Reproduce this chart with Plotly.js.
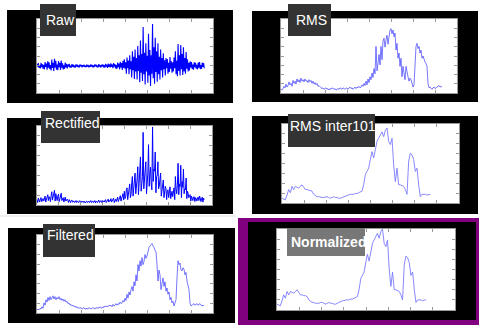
<!DOCTYPE html>
<html>
<head>
<meta charset="utf-8">
<script src="https://cdn.plot.ly/plotly-3.0.1.min.js"></script>
<style>html,body{margin:0;padding:0;background:#fff;}#chart{width:479px;height:325px;}</style>
</head>
<body>
<div id="chart"></div>
<script>
// ---- data (arbitrary units) ----
const panelTitles = ["Raw", "RMS", "Rectified", "RMS inter101", "Filtered", "Normalized"];

const rawSignal = [
  0.08,-0.02,0.11,-0.07,0.03,-0.09,0.12,-0.04,0.07,-0.10,
  0.05,-0.12,0.15,-0.03,0.09,-0.13,0.18,-0.06,0.14,-0.11,
  0.04,-0.16,0.24,-0.07,0.12,-0.18,0.27,-0.05,0.20,-0.13,
  0.06,-0.15,0.19,-0.04,0.12,-0.14,0.21,-0.06,0.10,-0.12,
  0.03,-0.10,0.13,-0.05,0.08,-0.09,0.06,-0.02,0.08,-0.06,
  0.02,-0.06,0.07,-0.03,0.05,-0.05,0.02,-0.06,0.06,-0.02,
  0.05,-0.04,0.02,-0.05,0.06,-0.01,0.04,-0.05,0.03,-0.02,
  0.05,-0.03,0.01,-0.04,0.05,-0.02,0.04,-0.05,0.02,-0.03,
  0.06,-0.02,0.04,-0.05,0.02,-0.04,0.06,-0.01,0.05,-0.04,
  0.02,-0.05,0.07,-0.02,0.04,-0.06,0.05,-0.01,0.06,-0.05,
  0.03,-0.06,0.08,-0.02,0.05,-0.07,0.09,-0.03,0.06,-0.05,
  0.10,-0.03,0.06,-0.08,0.11,-0.02,0.07,-0.09,0.04,-0.10,
  0.13,-0.04,0.09,-0.12,0.16,-0.05,0.11,-0.14,0.20,-0.07,
  0.25,-0.10,0.14,-0.28,0.32,-0.08,0.21,-0.30,0.40,-0.12,
  0.18,-0.42,0.55,-0.15,0.35,-0.48,0.62,-0.20,0.30,-0.50,
  0.75,-0.18,0.40,-0.60,0.95,-0.25,0.45,-0.55,1.45,-0.30,
  0.50,-0.68,0.85,-0.20,0.38,-0.62,1.20,-0.35,0.60,-0.74,
  0.40,-0.28,1.56,-0.45,0.70,-0.66,1.05,-0.22,0.55,-0.58,
  0.85,-0.30,0.35,-0.50,0.62,-0.15,0.30,-0.42,0.48,-0.12,
  0.22,-0.35,0.30,-0.08,0.26,-0.28,0.12,-0.22,0.34,-0.10,
  0.18,-0.25,0.14,-0.20,0.32,-0.08,0.55,-0.30,0.20,-0.38,
  0.82,-0.18,0.40,-0.35,0.78,-0.12,0.45,-0.33,0.70,-0.20,
  0.30,-0.28,0.52,-0.10,0.25,-0.20,0.12,-0.16,0.18,-0.05,
  0.15,-0.11,0.06,-0.13,0.14,-0.04,0.12,-0.10,0.05,-0.12,
  0.13,-0.06,0.15,-0.11,0.04,-0.10,0.13,-0.03,0.11,-0.08
];

const rmsSignal = [
  0.05,0.04,0.06,0.09,0.07,0.12,0.08,0.10,0.15,0.11,
  0.13,0.09,0.17,0.13,0.16,0.12,0.19,0.15,0.18,0.14,
  0.20,0.16,0.18,0.15,0.19,0.16,0.17,0.14,0.18,0.15,
  0.17,0.13,0.16,0.12,0.14,0.11,0.13,0.09,0.10,0.08,
  0.07,0.06,0.07,0.05,0.06,0.07,0.05,0.06,0.04,0.06,
  0.05,0.07,0.06,0.05,0.06,0.04,0.05,0.06,0.05,0.07,
  0.06,0.05,0.07,0.06,0.05,0.06,0.07,0.05,0.06,0.08,
  0.06,0.07,0.05,0.07,0.08,0.06,0.08,0.07,0.09,0.07,
  0.08,0.11,0.09,0.13,0.10,0.16,0.11,0.19,0.14,0.22,
  0.18,0.27,0.21,0.33,0.26,0.63,0.30,0.40,0.52,0.38,
  0.63,0.45,0.70,0.74,0.62,0.72,0.78,0.66,0.81,0.85,
  0.87,0.80,0.85,0.76,0.81,0.58,0.67,0.47,0.54,0.36,
  0.47,0.22,0.36,0.29,0.18,0.36,0.25,0.22,0.16,0.20,
  0.18,0.12,0.08,0.11,0.40,0.63,0.67,0.60,0.63,0.54,
  0.58,0.47,0.50,0.45,0.42,0.40,0.36,0.13,0.07,0.08,
  0.06,0.05,0.07,0.08,0.06,0.07,0.08,0.09,0.10,0.08,0.09,0.09
];

const filteredSignal = [
  0.04,0.05,0.04,0.06,0.05,0.08,0.06,0.13,0.10,0.17,
  0.14,0.20,0.16,0.21,0.17,0.19,0.22,0.18,0.21,0.17,
  0.20,0.18,0.21,0.17,0.19,0.16,0.18,0.15,0.17,0.14,
  0.15,0.12,0.13,0.10,0.11,0.09,0.10,0.08,0.09,0.07,
  0.08,0.06,0.07,0.06,0.07,0.05,0.06,0.07,0.05,0.06,
  0.06,0.05,0.07,0.06,0.05,0.06,0.07,0.06,0.05,0.07,
  0.06,0.07,0.06,0.08,0.07,0.06,0.08,0.07,0.09,0.08,
  0.09,0.08,0.10,0.09,0.10,0.08,0.11,0.09,0.10,0.12,
  0.10,0.12,0.11,0.14,0.12,0.13,0.16,0.14,0.19,0.16,
  0.24,0.19,0.27,0.23,0.30,0.34,0.28,0.40,0.35,0.49,
  0.41,0.62,0.54,0.67,0.60,0.71,0.62,0.66,0.75,0.70,
  0.73,0.80,0.84,0.86,0.88,0.89,0.86,0.84,0.80,0.79,
  0.62,0.41,0.55,0.49,0.30,0.41,0.45,0.34,0.40,0.28,
  0.32,0.24,0.27,0.17,0.20,0.13,0.15,0.09,0.12,0.17,
  0.45,0.67,0.62,0.64,0.55,0.54,0.58,0.56,0.49,0.52,
  0.41,0.36,0.30,0.13,0.09,0.10,0.11,0.12,0.10,0.11,
  0.12,0.10,0.11,0.12,0.10,0.09,0.10,0.09
];

const rmsInter101 = [
  0.06,0.05,0.04,0.10,0.17,0.13,0.21,0.17,0.21,0.20,
  0.19,0.21,0.23,0.20,0.17,0.17,0.16,0.16,0.15,0.11,
  0.09,0.08,0.08,0.07,0.07,0.07,0.08,0.08,0.07,0.06,
  0.07,0.08,0.07,0.07,0.06,0.06,0.07,0.08,0.09,0.10,
  0.10,0.11,0.11,0.11,0.12,0.12,0.13,0.14,0.15,0.23,
  0.36,0.40,0.44,0.55,0.65,0.57,0.69,0.78,0.82,0.86,
  0.90,0.84,0.92,0.95,0.78,0.74,0.82,0.48,0.27,0.44,
  0.23,0.23,0.22,0.21,0.17,0.11,0.53,0.63,0.61,0.55,
  0.40,0.44,0.23,0.08,0.11,0.11,0.11,0.10,0.11,0.11
];

// derived series, as in the original processing chain
const rectifiedSignal = rawSignal.map(v => Math.abs(v));
const interPeak = Math.max(...rmsInter101);
const normalizedSignal = rmsInter101.map(v => v / interPeak);

// ---- layout helpers (pixel geometry of the 479x325 page) ----
const W = 479, H = 325;
const px = x => x / W;
const py = y => 1 - y / H;

function rect(x0, y0, x1, y1, fill, layer) {
  return {type: "rect", xref: "paper", yref: "paper",
          x0: px(x0), x1: px(x1), y0: py(y1), y1: py(y0),
          fillcolor: fill, line: {width: 0}, layer: layer || "below"};
}

function axis(domain, range) {
  return {domain: domain, range: range, tick0: range[0], dtick: (range[1] - range[0]) / 8,
          ticks: "inside", ticklen: 3, tickwidth: 1, tickcolor: "#9a9a9a",
          showticklabels: false, showgrid: false, zeroline: false,
          showline: true, linecolor: "#9a9a9a", linewidth: 1, mirror: "ticks",
          fixedrange: true};
}

// plot boxes [left, top, right, bottom] in page pixels
const boxes = [
  [37, 19, 213, 93],    // Raw
  [281, 19, 457, 93],   // RMS
  [37, 126, 212, 205],  // Rectified
  [282, 124, 459, 203], // RMS inter101
  [37, 235, 213, 313],  // Filtered
  [277, 229, 455, 310]  // Normalized
];
const xRanges = [[0, 262], [0, 176], [0, 260.5], [0, 106.2], [0, 176], [0, 106.3]];
const yRanges = [[-1.0, 1.75], [0, 1], [-0.03, 1.58], [0, 1], [0, 1], [-0.01, 1.0]];
const series = [rawSignal, rmsSignal, rectifiedSignal, rmsInter101, filteredSignal, normalizedSignal];
const lineStyles = [
  {color: "#0000ff", width: 1.1},
  {color: "#3c3cff", width: 0.7},
  {color: "#0000ff", width: 1.0},
  {color: "#7a7aff", width: 0.9},
  {color: "#3c3cff", width: 0.7},
  {color: "#7a7aff", width: 0.9}
];

const data = [];
const layout = {
  width: W, height: H, margin: {l: 0, r: 0, t: 0, b: 0},
  paper_bgcolor: "#ffffff", plot_bgcolor: "rgba(0,0,0,0)",
  showlegend: false, shapes: [], annotations: []
};

// frames
layout.shapes.push(rect(0, 215.5, 236, 216.5, "#e2e2e2"));
layout.shapes.push(rect(7, 10, 233, 103, "#000000"));
layout.shapes.push(rect(252, 11, 478, 102, "#000000"));
layout.shapes.push(rect(7, 118, 233, 214, "#000000"));
layout.shapes.push(rect(252, 116, 478, 214, "#000000"));
layout.shapes.push(rect(8, 228, 235, 323, "#000000"));
layout.shapes.push(rect(238, 218, 479, 325, "#800080"));
layout.shapes.push(rect(248, 222, 476, 320, "#000000"));

boxes.forEach((b, i) => {
  const n = i === 0 ? "" : String(i + 1);
  layout["xaxis" + n] = axis([px(b[0]), px(b[2])], xRanges[i]);
  layout["yaxis" + n] = axis([py(b[3]), py(b[1])], yRanges[i]);
  layout["xaxis" + n].anchor = "y" + n;
  layout["yaxis" + n].anchor = "x" + n;
  layout.shapes.push(rect(b[0], b[1], b[2], b[3], "#ffffff"));
  data.push({type: "scatter", mode: "lines", y: series[i],
             xaxis: "x" + n, yaxis: "y" + n,
             line: lineStyles[i], hoverinfo: "skip"});
});

// title tags: [box left, top, right, bottom, text x, text center y, fill, bold]
const tags = [
  [40, 4, 76, 36, 44, 20.5, "#333333", false],
  [288, 4, 331, 36, 294, 20.5, "#333333", false],
  [41, 111, 100, 143, 43, 123, "#333333", false],
  [288, 114, 375, 147, 288, 126, "#333333", false],
  [43, 224, 95, 257, 45, 235, "#333333", false],
  [287, 228, 365, 256, 289, 241.5, "#777777", true]
];
tags.forEach((t, i) => {
  layout.shapes.push(rect(t[0], t[1], t[2], t[3], t[6], "above"));
  layout.annotations.push({
    xref: "paper", yref: "paper", x: px(t[4]), y: py(t[5]),
    xanchor: "left", yanchor: "middle", showarrow: false,
    text: t[7] ? "<b>" + panelTitles[i] + "</b>" : panelTitles[i],
    font: {family: "Liberation Sans, Arial, sans-serif", size: 14, color: "#ffffff"}
  });
});

Plotly.newPlot("chart", data, layout, {staticPlot: true, displayModeBar: false});
</script>
</body>
</html>
